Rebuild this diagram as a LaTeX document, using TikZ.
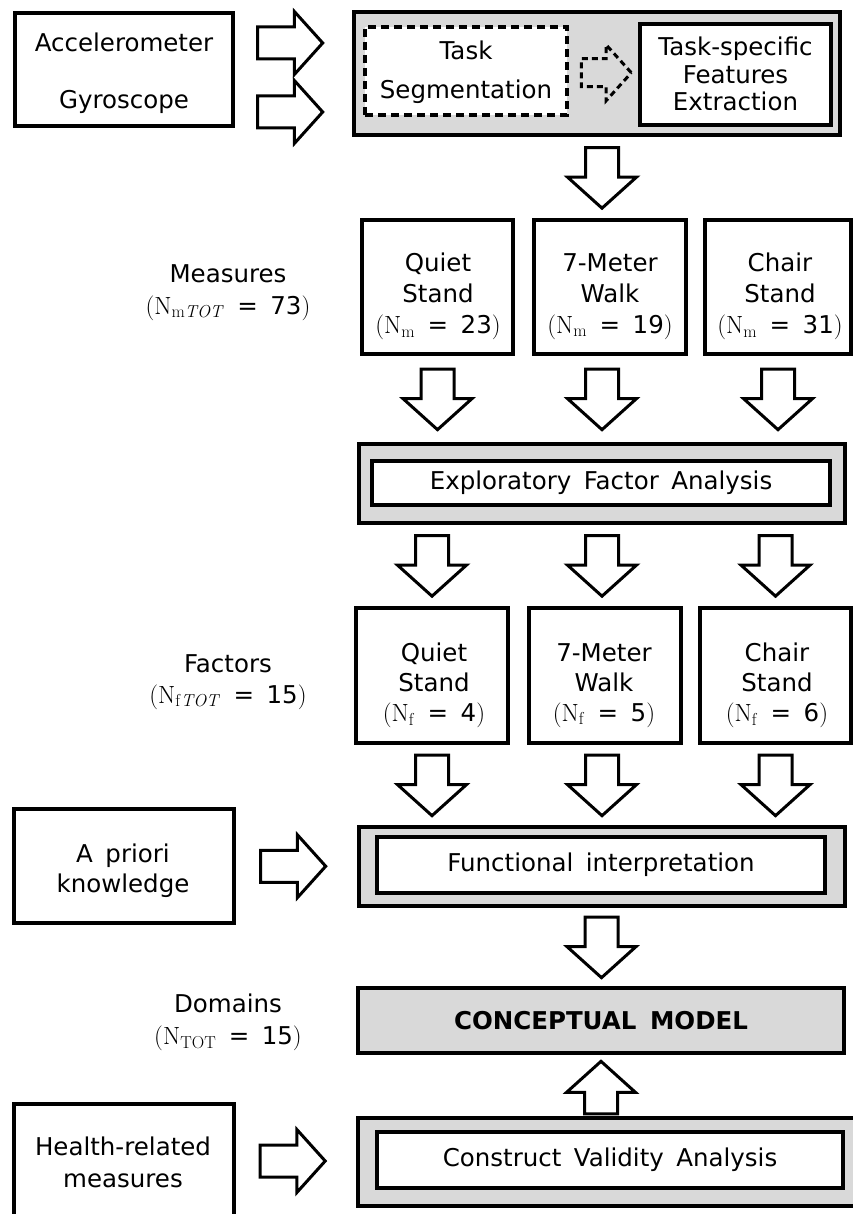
\documentclass[tikz,border=0pt]{standalone}
\usepackage[no-math]{fontspec}
\setmainfont{DejaVu Sans}[WordSpace=1.6]
\usetikzlibrary{shapes.arrows,calc}
\definecolor{panel}{HTML}{D9D9D9}
\newcommand{\cnt}[2]{$(\mathrm{N}_{#1}$ = #2$)$}
\tikzset{
  box/.style={draw, line width=4pt, fill=white, inner sep=0pt, outer sep=0pt},
  greybox/.style={box, fill=panel},
  txt/.style={align=center, inner sep=0pt, anchor=north},
  blockarrow/.style={single arrow, draw, line width=3pt, fill=white, inner sep=0pt,
    text depth=0pt, single arrow tip angle=96},
  bigarrow/.style={blockarrow, text height=30pt, minimum height=60.5pt,
    single arrow head extend=18pt},
  varrow/.style={yshift=7pt, bigarrow, rotate=-90},
  uarrow/.style={yshift=-9.5pt, bigarrow, minimum height=52.5pt, rotate=90},
  harrow/.style={xshift=-10.5pt, blockarrow, text height=29pt, minimum height=65pt,
    single arrow head extend=15.5pt},
  dasharrow/.style={xshift=-3.5pt, blockarrow, fill=none, dash pattern=on 6pt off 4pt,
    text height=25pt, minimum height=50pt, single arrow head extend=14pt}
}
\begin{document}
\begin{tikzpicture}
    [x=1pt, y=-1pt, font=\fontsize{24.5}{30}\selectfont]
    \useasboundingbox (0,0) rectangle (853,1214);
    %sensors and processing
    \node[box, minimum width=218pt, minimum height=113pt] (sensors) at (124,69.5) {};
    \node[txt] (sensortxt) at (124,33) {Accelerometer\\[27pt]Gyroscope};
    \node[greybox, minimum width=486pt, minimum height=123pt] (proc) at (597,73.5) {};
    \node[box, dash pattern=on 8pt off 5pt, minimum width=202pt, minimum height=88pt] (seg) at (466,71) {};
    \node[txt] (segtxt) at (466,41) {Task\\[9pt]Segmentation};
    \node[box, minimum width=191pt, minimum height=101pt] (feat) at (735.5,74.5) {};
    \node[txt] (feattxt) at (735.5,37) {Task-specific\\[-2.5pt]Features\\[-2.5pt]Extraction};
    %measures
    \node[txt] (measlbl) at (228,264) {Measures\\[2pt]\cnt{\mathrm{m}\mathit{TOT}}{73}};
    \node[box, minimum width=151pt, minimum height=134pt] (qsM) at (437.5,287) {};
    \node[box, minimum width=152pt, minimum height=134pt] (mwM) at (610,287) {};
    \node[box, minimum width=146pt, minimum height=134pt] (csM) at (778,287) {};
    \node[txt] (qsMtxt) at (438,253) {Quiet\\[1pt]Stand\\[1pt]\cnt{\mathrm{m}}{23}};
    \node[txt] (mwMtxt) at (610,253) {7-Meter\\[1pt]Walk\\[1pt]\cnt{\mathrm{m}}{19}};
    \node[txt] (csMtxt) at (780,253) {Chair\\[1pt]Stand\\[1pt]\cnt{\mathrm{m}}{31}};
    %factor analysis
    \node[greybox, minimum width=486pt, minimum height=79pt] (efa) at (602,483.5) {};
    \node[box, minimum width=458pt, minimum height=44pt] (efain) at (601,483) {Exploratory Factor Analysis};
    %factors
    \node[txt] (factlbl) at (228,654) {Factors\\[1pt]\cnt{\mathrm{f}\mathit{TOT}}{15}};
    \node[box, minimum width=152pt, minimum height=135pt] (qsF) at (432,675.5) {};
    \node[box, minimum width=152pt, minimum height=135pt] (mwF) at (605,675.5) {};
    \node[box, minimum width=151pt, minimum height=135pt] (csF) at (775.5,675.5) {};
    \node[txt] (qsFtxt) at (434,643) {Quiet\\Stand\\\cnt{\mathrm{f}}{4}};
    \node[txt] (mwFtxt) at (604,643) {7-Meter\\Walk\\\cnt{\mathrm{f}}{5}};
    \node[txt] (csFtxt) at (777,643) {Chair\\Stand\\\cnt{\mathrm{f}}{6}};
    %interpretation
    \node[box, minimum width=220pt, minimum height=114pt] (apriori) at (124,866) {};
    \node[txt] (aprioritxt) at (123,844) {A priori\\knowledge};
    \node[greybox, minimum width=486pt, minimum height=79pt] (func) at (602,866.5) {};
    \node[box, minimum width=448pt, minimum height=56pt] (funcin) at (601,865) {Functional interpretation};
    %model
    \node[txt] (domlbl) at (228,994) {Domains\\[2pt]\cnt{\mathrm{TOT}}{15}};
    \node[greybox, minimum width=486pt, minimum height=65pt] (concept) at (601,1020.5) {\bfseries CONCEPTUAL MODEL};
    %validity
    \node[box, minimum width=220pt, minimum height=136pt] (health) at (124,1172) {};
    \node[txt] (healthtxt) at (123,1137) {Health-related\\[2pt]measures};
    \node[greybox, minimum width=500pt, minimum height=88pt] (construct) at (608,1162) {};
    \node[box, minimum width=466pt, minimum height=56pt] (constructin) at (610,1160) {Construct Validity Analysis};
    %block arrows
    \path (sensors.east) -- (proc.west)
        node[harrow, pos=.5, yshift=28.5pt] (accarrow) {}
        node[harrow, pos=.5, yshift=-40.5pt] (gyrarrow) {};
    \path (seg.east) -- (feat.west) node[dasharrow, pos=.5] (segarrow) {};
    \path (efa.north |- proc.south) -- (efa.north |- mwM.north) node[varrow, pos=.5] (procarrow) {};
    \foreach \b in {qsM,csM}
        \path (\b.south) -- (\b.south |- efa.north) node[varrow, pos=.5] (\b arrow) {};
    \path (efa.north |- mwM.south) -- (efa.north) node[varrow, pos=.5] (mwMarrow) {};
    \foreach \b in {qsF,csF}{
        \path (\b.north |- efa.south) -- (\b.north) node[varrow, pos=.5] (\b in) {};
        \path (\b.south) -- (\b.south |- func.north) node[varrow, pos=.5] (\b out) {};
    }
    \path (efa.south) -- (efa.south |- mwF.north) node[varrow, pos=.5] (mwFin) {};
    \path (func.north |- mwF.south) -- (func.north) node[varrow, pos=.5] (mwFout) {};
    \path (apriori.east) -- (func.west) node[harrow, pos=.5] (apriorarrow) {};
    \path (func.south) -- (concept.north) node[varrow, pos=.5] (funcarrow) {};
    \path (concept.south |- construct.north) -- (concept.south) node[uarrow, pos=.5] (validarrow) {};
    \path (health.east |- constructin.west) -- (construct.west) node[harrow, pos=.5] (healtharrow) {};
\end{tikzpicture}
\end{document}
